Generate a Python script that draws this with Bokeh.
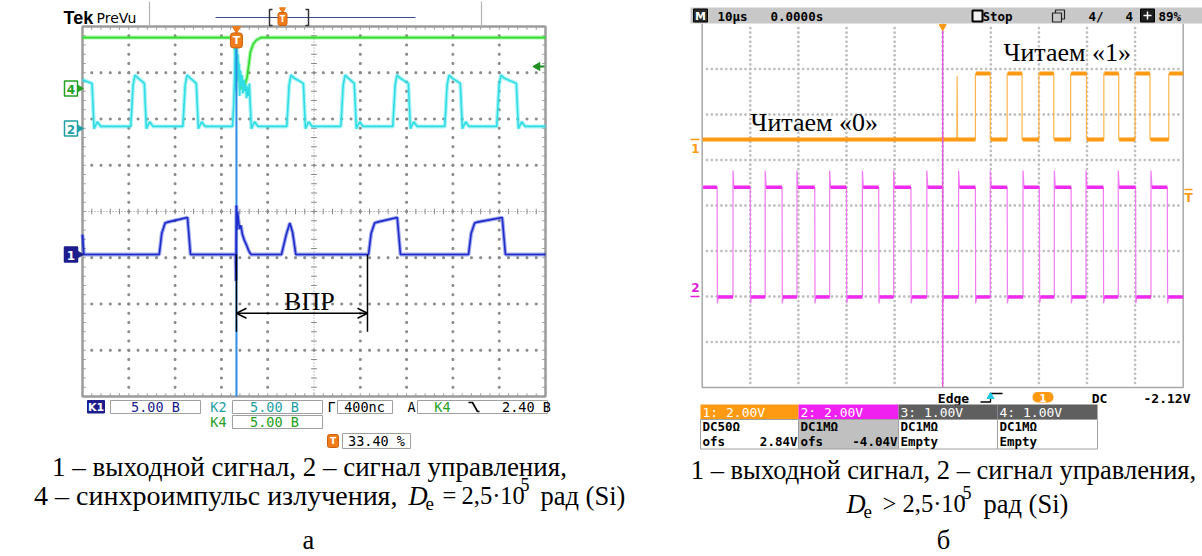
import numpy as np
from bokeh.plotting import figure
from bokeh.models import Range1d, Arrow, OpenHead
from bokeh.core.properties import value
from bokeh.embed import file_html
from bokeh.resources import INLINE

W, H = 1202, 556

# ================= DATA =================
# --- left oscillogram (Tek), time in ns (400 ns/div, 10 div), amplitude in divisions ---
L_T_SPAN = 4000.0
L_GREEN_LEVEL = 3.76
L_GREEN_DIP_NS = [1296, 1330, 1365, 1400, 1422, 1451, 1475, 1500, 1540]
L_GREEN_DIP_DIV = [3.76, 3.40, 2.65, 2.72, 2.90, 3.45, 3.62, 3.70, 3.76]

L_CYAN_LOW, L_CYAN_HIGH = 1.84, 2.85
L_CYAN_RISE_NS = [423, 873, 1771, 2238, 2687, 3136, 3585]
L_CYAN_FALL_NS = [92, 544, 993, 1451, 1918, 2358, 2825, 3274, 3758]
L_CYAN_BURST_NS = [1296, 1306, 1314, 1320, 1326, 1331, 1336, 1341, 1347, 1352, 1358,
                   1364, 1370, 1378, 1386, 1394, 1402, 1410, 1418, 1426, 1434, 1442]
L_CYAN_BURST_DIV = [1.84, 2.30, 2.90, 3.72, 2.60, 3.55, 2.80, 3.40, 2.95, 3.20, 2.50,
                    3.05, 2.70, 2.95, 2.55, 2.85, 2.60, 2.75, 2.45, 2.70, 2.50, 2.60]

L_BLUE_BASE, L_BLUE_HIGH = -0.93, -0.17
L_BLUE_RISE0_NS = [663, 2471, 3335]
L_BLUE_RISE1_NS = [735, 2546, 3410]
L_BLUE_FALL0_NS = [907, 2719, 3626]
L_BLUE_FALL1_NS = [933, 2747, 3654]
L_BLUE_START_NS = [0, 12]
L_BLUE_START_DIV = [-0.50, -0.93]
L_BLUE_SPIKE_NS = [1322, 1326, 1330, 1334, 1339, 1346, 1356, 1368, 1382, 1398, 1416, 1436, 1456]
L_BLUE_SPIKE_DIV = [-0.93, -1.50, 0.13, -0.40, 0.00, -0.15, -0.38, -0.30, -0.50, -0.62, -0.72, -0.85, -0.93]
L_BLUE_SMALL_NS = [1719, 1760, 1791, 1815, 1843]
L_BLUE_SMALL_DIV = [-0.93, -0.50, -0.25, -0.45, -0.93]

L_TRIG_NS = 1330
L_VPR_END_NS = 2462
L_VPR_Y_DIV = -2.2

# --- right oscillogram (GW), time in us (10 us/div), amplitude in divisions ---
R_T_SPAN = 100.0
R_OR_LOW, R_OR_HIGH = 1.45, 2.90
R_OR_RISE_US = [56.8, 63.4, 70.0, 76.6, 83.5, 90.0, 97.0]
R_OR_FALL_US = [59.9, 66.5, 73.1, 79.9, 86.6, 93.1]
R_OR_GLITCH_US = [50.0, 53.0]
R_OR_GLITCH_DIV = [1.62, 2.85]
R_MG_LOW, R_MG_HIGH = -2.01, 0.40
R_MG_PEAK, R_MG_DIP = 0.77, -2.15
R_MG_FALL_US = [3.1, 10.0, 16.6, 23.4, 30.0, 36.7, 43.4, 50.0, 56.8, 63.4, 70.1, 76.7, 83.4, 90.1, 96.7]
R_MG_RISE_US = [6.4, 13.1, 19.7, 26.5, 33.3, 39.8, 46.7, 53.3, 59.9, 66.7, 73.2, 79.8, 86.5, 93.3]
R_TRIG_US = 50.0

# ================= FIGURE =================
p = figure(width=W, height=H, x_range=Range1d(0, W), y_range=Range1d(H, 0),
           output_backend="svg", toolbar_location=None, min_border=0,
           x_axis_location=None, y_axis_location=None)
p.grid.visible = False
p.outline_line_color = None
p.title.visible = False
p.background_fill_color = "white"

# screen placement on the page (pixels)
LX0, LX1, LY0, LY1 = 82.0, 545.0, 26.0, 396.0
RX0, RX1, RY0, RY1 = 701.7, 1182.7, 23.0, 387.0

def xr(x0, x1, span):
    k = span / (x1 - x0)
    return Range1d(-x0 * k, span + (W - x1) * k)

def yr(y0, y1):
    k = 8.0 / (y1 - y0)
    return Range1d(-4 - (H - y1) * k, 4 + y0 * k)

p.extra_x_ranges = {"lx": xr(LX0, LX1, L_T_SPAN), "rx": xr(RX0, RX1, R_T_SPAN)}
p.extra_y_ranges = {"ly": yr(LY0, LY1), "ry": yr(RY0, RY1)}
L = dict(x_range_name="lx", y_range_name="ly")
R = dict(x_range_name="rx", y_range_name="ry")

def txt(x, y, s, size, color="black", font="DejaVu Sans", align="left",
        baseline="middle", style="normal", rng=None):
    kw = rng if rng else {}
    p.text(x=[x], y=[y], text=[s], text_font=value(font), text_font_size=f"{size}px",
           text_color=color, text_align=align, text_baseline=baseline,
           text_font_style=style, **kw)

def box(l, r, t, b, fill="white", line="#a0a0a0", lw=1, radius=0):
    p.quad(left=[l], right=[r], top=[t], bottom=[b], fill_color=fill,
           line_color=line, line_width=lw, border_radius=radius)

# ================= LEFT SCREEN =================
gx, gy = [], []
for i in range(1, 10):
    if i == 5:
        continue
    for yv in np.arange(-3.8, 3.81, 0.2):
        gx.append(i * 400.0); gy.append(yv)
for j in range(-3, 4):
    if j == 0:
        continue
    for t in np.arange(80, 4000, 80):
        gx.append(t); gy.append(float(j))
p.scatter(gx, gy, marker="square", size=1.8, color="#8a8a8a", **L)
p.line([0, 4000], [0, 0], line_color="#8a8a8a", line_dash="1 2", **L)
p.line([2000, 2000], [-4, 4], line_color="#8a8a8a", line_dash="1 2", **L)
tt = np.arange(80, 4000, 80)
p.segment(tt, -0.06, tt, 0.06, line_color="#8a8a8a", **L)
ty = np.arange(-3.8, 3.81, 0.2)
p.segment(2000 - 25, ty, 2000 + 25, ty, line_color="#8a8a8a", **L)
p.segment(tt, 4, tt, 3.93, line_color="#9a9a9a", **L)
p.segment(tt, -4, tt, -3.93, line_color="#9a9a9a", **L)
p.segment(0, ty, 28, ty, line_color="#9a9a9a", **L)
p.segment(4000, ty, 3972, ty, line_color="#9a9a9a", **L)
p.quad(left=[0], right=[4000], top=[4], bottom=[-4], fill_color=None,
       line_color="#9c9c9c", line_width=2.5, **L)

# green trace
gxs = [0.0] + L_GREEN_DIP_NS + [L_T_SPAN]
gys = [L_GREEN_LEVEL] + L_GREEN_DIP_DIV + [L_GREEN_LEVEL]
p.line(gxs, gys, line_color="#3ae83a", line_width=4, alpha=0.45, **L)
p.line(gxs, gys, line_color="#2fdc2f", line_width=1.6, **L)

# cyan trace
lo, hi = L_CYAN_LOW, L_CYAN_HIGH
ev = sorted([(t, "r") for t in L_CYAN_RISE_NS] + [(t, "f") for t in L_CYAN_FALL_NS]
            + [(L_CYAN_BURST_NS[0], "b")])
cx, cy = [0.0], [hi]
for t, k in ev:
    if k == "r":
        seq = [(t - 6, lo), (t + 14, hi - 0.12), (t + 30, hi + 0.10), (t + 60, hi + 0.03)]
    elif k == "f":
        seq = [(t - 10, hi - 0.08), (t + 8, lo - 0.05), (t + 36, lo + 0.10), (t + 66, lo)]
    else:
        seq = list(zip(L_CYAN_BURST_NS, L_CYAN_BURST_DIV))
    for a, b in seq:
        cx.append(a); cy.append(b)
cx.append(L_T_SPAN); cy.append(lo)
p.line(cx, cy, line_color="#44e6ec", line_width=4, alpha=0.45, **L)
p.line(cx, cy, line_color="#30dde4", line_width=1.6, **L)

# trigger line
p.line([L_TRIG_NS, L_TRIG_NS], [3.55, -4], line_color="#2b8de6", line_width=2, **L)

# blue trace
base, bh = L_BLUE_BASE, L_BLUE_HIGH
segs = []
for r0, r1, f0, f1 in zip(L_BLUE_RISE0_NS, L_BLUE_RISE1_NS, L_BLUE_FALL0_NS, L_BLUE_FALL1_NS):
    segs.append([(r0, base), (r0 + 0.3 * (r1 - r0), base + 0.6 * (bh - base)),
                 (r0 + 0.7 * (r1 - r0), bh - 0.08), (r1, bh - 0.06), (f0, bh + 0.04), (f1, base)])
segs.append(list(zip(L_BLUE_SPIKE_NS, L_BLUE_SPIKE_DIV)))
segs.append(list(zip(L_BLUE_SMALL_NS, L_BLUE_SMALL_DIV)))
segs.sort(key=lambda s: s[0][0])
bx, by = list(L_BLUE_START_NS), list(L_BLUE_START_DIV)
for s in segs:
    for a, b in s:
        bx.append(a); by.append(b)
bx.append(L_T_SPAN); by.append(base)
p.line(bx, by, line_color="#2a3ad8", line_width=3.8, alpha=0.45, **L)
p.line(bx, by, line_color="#1d2bc8", line_width=1.6, **L)

# trigger T marker on top
p.scatter([L_TRIG_NS], [3.95], marker="inverted_triangle", size=8, color="#f07d1a", **L)
p.rect([L_TRIG_NS], [3.70], width=12, height=15, width_units="screen", height_units="screen",
       fill_color="#f07d1a", line_color="#d06010", border_radius=3, **L)
txt(L_TRIG_NS, 3.70, "T", 11, "white", "DejaVu Sans", "center", "middle", "bold", L)

# VPR annotation
p.line([L_TRIG_NS, L_TRIG_NS], [L_BLUE_BASE, -2.6], line_color="black", line_width=1.5, **L)
p.line([L_VPR_END_NS, L_VPR_END_NS], [L_BLUE_BASE, -2.6], line_color="black", line_width=1.5, **L)
p.add_layout(Arrow(x_start=L_TRIG_NS, y_start=L_VPR_Y_DIV, x_end=L_VPR_END_NS, y_end=L_VPR_Y_DIV,
                   line_width=1.4, line_color="black",
                   start=OpenHead(size=10, line_width=1.4, line_color="black"),
                   end=OpenHead(size=10, line_width=1.4, line_color="black"), **L))
txt(1960, -1.95, "ВПР", 26, "black", "Liberation Serif", "center", "middle", "normal", L)

# channel markers on the left
def ch_marker(yc, label, color, filled):
    box(64, 77, yc - 7.5, yc + 7.5, fill=color if filled else "white", line=color, lw=1.5)
    p.scatter([79.5], [yc], marker="triangle", angle=-np.pi / 2, size=6, color=color)
    txt(70.5, yc + 0.5, label, 12, "white" if filled else color, "DejaVu Sans", "center", "middle", "bold")

ch_marker(88, "4", "#22a022", False)
ch_marker(128, "2", "#1fa0a5", False)
ch_marker(254, "1", "#1c1c8c", True)
p.scatter([537], [66], marker="triangle", angle=np.pi / 2, size=8, color="#1f8f1f")
p.line([538, 544], [66, 66], line_color="#1f8f1f", line_width=2)

# header "Tek PreVu"
txt(63, 17, "Tek", 18, "black", "Liberation Sans", "left", "middle", "bold")
txt(96, 17, "PreVu", 14, "black", "DejaVu Sans", "left", "middle")
p.segment([149, 481], [1, 1], [149, 481], [26, 26], line_color="#b4b4b4", line_width=1.2)
p.line([215, 415], [17, 17], line_color="#3b4a8a", line_width=1.2)
p.line([272, 269, 269, 272], [9, 9, 25, 25], line_color="#333333", line_width=1.5)
p.line([305, 308, 308, 305], [9, 9, 25, 25], line_color="#333333", line_width=1.5)
p.scatter([282], [9], marker="inverted_triangle", size=6, color="#f07d1a")
box(277.5, 286.5, 12, 25, fill="#f07d1a", line="#d06010", radius=2)
txt(282, 18.5, "T", 8, "white", "DejaVu Sans", "center", "middle", "bold")

# bottom status (Tek)
MONO = "DejaVu Sans Mono"
NAVY, TEAL, GREEN = "#1c1c8c", "#1fa0a5", "#22a022"
y1, y2, y3 = 406.5, 421.5, 440.5
box(87, 104, 400, 412.5, fill=NAVY, line=NAVY)
txt(95.5, y1, "K1", 11, "white", "DejaVu Sans", "center", "middle", "bold")
box(110, 200, 400, 413)
txt(155, y1, "5.00 B", 13.5, NAVY, MONO, "center")
txt(218, y1, "K2", 13.5, TEAL, MONO, "center")
box(232, 322, 400, 413)
txt(274, y1, "5.00 B", 13.5, TEAL, MONO, "center")
txt(331, y1, "Г", 13.5, "black", MONO, "center")
box(337, 392, 400, 413)
txt(364, y1, "400nc", 13.5, "black", MONO, "center")
txt(411, y1, "А", 13.5, "black", MONO, "center")
box(417, 547, 400, 413)
txt(442, y1, "K4", 13.5, GREEN, MONO, "center")
p.line([468, 472, 477, 479], [402, 402, 411, 411], line_color="black", line_width=1.6)
txt(526, y1, "2.40 B", 13.5, "black", MONO, "center")
txt(218, y2, "K4", 13.5, GREEN, MONO, "center")
box(232, 322, 415, 428)
txt(274, y2, "5.00 B", 13.5, GREEN, MONO, "center")
box(327, 338, 434, 447, fill="#f07d1a", line="#d06010", radius=2)
txt(332.5, y3, "T", 9, "white", "DejaVu Sans", "center", "middle", "bold")
box(342, 410, 433, 448)
txt(376, y3, "33.40 %", 13.5, "black", MONO, "center")

# ================= RIGHT SCREEN =================
gx, gy = [], []
for i in range(1, 10):
    for yv in np.arange(-3.9, 3.91, 0.1):
        gx.append(i * 10.0); gy.append(yv)
for j in range(-3, 4):
    for t in np.arange(1, 100, 1.0):
        gx.append(t); gy.append(float(j))
p.scatter(gx, gy, marker="square", size=1.5, color="#bcbcbc", **R)
p.line([0, 0, 100, 100], [4, -4, -4, 4], line_color="#a8a8a8", line_width=1.5, **R)

# orange trace (channel 1)
olo, ohi = R_OR_LOW, R_OR_HIGH
oev = sorted([(t, 1) for t in R_OR_RISE_US] + [(t, 0) for t in R_OR_FALL_US])
ox, oy = [0.0], [olo]
for g, gv in zip(R_OR_GLITCH_US, R_OR_GLITCH_DIV):
    ox += [g - 0.05, g, g + 0.08]; oy += [olo, gv, olo]
for t, k in oev:
    ox += [t, t]; oy += ([olo, ohi] if k else [ohi, olo])
ox.append(R_T_SPAN); oy.append(ohi)
p.line(ox, oy, line_color="#ffb54d", line_width=1.2, **R)
plat, cur, st = [], 0.0, 0
for t, k in oev:
    plat.append((cur, t, st)); cur, st = t, k
plat.append((cur, R_T_SPAN, st))
p.segment([a + 0.1 for a, b, s in plat], [ohi if s else olo for a, b, s in plat],
          [b for a, b, s in plat], [ohi if s else olo for a, b, s in plat],
          line_color="#ff9a12", line_width=4, **R)

# magenta trace (channel 2)
mlo, mhi = R_MG_LOW, R_MG_HIGH
mev = sorted([(t, 1) for t in R_MG_RISE_US] + [(t, 0) for t in R_MG_FALL_US])
mx, my = [0.0], [mhi]
for t, k in mev:
    if k:
        mx += [t, t, t + 0.2]; my += [mlo, R_MG_PEAK, mhi]
    else:
        mx += [t, t + 0.05, t + 0.25]; my += [mhi, R_MG_DIP, mlo]
mx.append(R_T_SPAN); my.append(mlo)
p.line(mx, my, line_color="#f27af2", line_width=1.2, **R)
plat, cur, st = [], 0.0, 1
for t, k in mev:
    plat.append((cur, t, st)); cur, st = t, k
plat.append((cur, R_T_SPAN, st))
p.segment([a + 0.2 for a, b, s in plat], [mhi if s else mlo for a, b, s in plat],
          [b for a, b, s in plat], [mhi if s else mlo for a, b, s in plat],
          line_color="#ee2aee", line_width=3.5, **R)

p.line([R_TRIG_US, R_TRIG_US], [4, -4], line_color="#e060e0", line_width=1.5, **R)
p.scatter([R_TRIG_US], [3.93], marker="inverted_triangle", size=7, color="#ff9a12", **R)

txt(750, 122, "Читаем «0»", 26, "black", "Liberation Serif", "left", "middle")
txt(1003, 52, "Читаем «1»", 26, "black", "Liberation Serif", "left", "middle")

p.line([690, 699], [139, 139], line_color="#ff9a12", line_width=1.5)
txt(695, 148, "1", 12, "#ff9a12", "DejaVu Sans", "center", "middle", "bold")
p.line([690, 699], [296, 296], line_color="#e020e0", line_width=1.5)
txt(695, 287, "2", 12, "#e020e0", "DejaVu Sans", "center", "middle", "bold")
p.line([1184, 1192], [189, 189], line_color="#ff9a12", line_width=1.5)
txt(1188, 197, "T", 12, "#ff9a12", "DejaVu Sans", "center", "middle", "bold")

# header bar (GW)
box(690, 1202, 7, 23, fill="#c8c8c8", line=None)
box(693, 707, 8.5, 21.5, fill="#2a2a2a", line="#000000")
txt(700, 15.5, "M", 11, "white", "DejaVu Sans", "center", "middle", "bold")
txt(717, 15.5, "10µs", 12.5, "black", MONO, "left", "middle", "bold")
txt(770, 15.5, "0.0000s", 12.5, "black", MONO, "left", "middle", "bold")
box(972, 982, 10, 21, fill="#f0f0f0", line="#000000", lw=2)
txt(982, 15.5, "Stop", 12.5, "black", MONO, "left", "middle", "bold")
box(1055, 1064, 9.5, 18.5, fill="#c8c8c8", line="#222222", lw=1.2)
box(1052, 1061, 12.5, 21.5, fill="#c8c8c8", line="#222222", lw=1.2)
txt(1088, 15.5, "4/", 12.5, "black", MONO, "left", "middle", "bold")
txt(1125, 15.5, "4", 12.5, "black", MONO, "left", "middle", "bold")
box(1140, 1154, 8.5, 21.5, fill="#1e1e1e", line="#000000")
p.segment([1143, 1147], [15, 11], [1151, 1147], [15, 19], line_color="white", line_width=1.5)
txt(1158, 15.5, "89%", 12.5, "black", MONO, "left", "middle", "bold")

# bottom status (GW)
txt(953, 397.5, "Edge", 13, "black", MONO, "center", "middle", "bold")
p.line([980, 990, 990, 1002], [401.5, 401.5, 393, 393], line_color="black", line_width=1.3)
p.scatter([990], [396], marker="triangle", size=7, color="#20c8e8")
box(1032, 1053, 391.5, 402, fill="#ff9a12", line=None, radius=5)
txt(1042.5, 397, "1", 10, "white", "DejaVu Sans", "center", "middle", "bold")
txt(1099, 397.5, "DC", 13, "black", MONO, "center", "middle", "bold")
txt(1190, 397.5, "-2.12V", 13, "black", MONO, "right", "middle", "bold")

chan = [(700, 798, "#ff9a12", "1: 2.00V", "white", "DC50Ω", "ofs", "2.84V"),
        (798, 898, "#f020f0", "2: 2.00V", "#c0c0c0", "DC1MΩ", "ofs", "-4.04V"),
        (898, 997, "#5f5f5f", "3: 1.00V", "white", "DC1MΩ", "Empty", ""),
        (997, 1097, "#5f5f5f", "4: 1.00V", "white", "DC1MΩ", "Empty", "")]
for l, r, hc, ht, bf, r1, r2, r2v in chan:
    box(l, r, 404, 419, fill=hc, line=None)
    box(l, r, 419, 448.5, fill=bf, line="#a0a0a0")
    txt(l + 2, 412, ht, 13, "white", MONO, "left", "middle")
    txt(l + 2, 426, r1, 12.5, "black", MONO, "left", "middle", "bold")
    txt(l + 2, 441, r2, 12.5, "black", MONO, "left", "middle", "bold")
    if r2v:
        txt(r - 1, 441, r2v, 12.5, "black", MONO, "right", "middle", "bold")

# ================= CAPTIONS =================
SERIF = "Liberation Serif"
CS, MS, SS = 26.5, 24.5, 18
txt(309, 466, "1 – выходной сигнал, 2 – сигнал управления,", 27, "black", SERIF, "center")
txt(397, 495, "4 – синхроимпульс излучения,", 28, "black", SERIF, "right")
txt(408, 495, "D", CS, "black", SERIF, "left", "middle", "italic")
txt(425, 503, "e", SS + 1, "black", SERIF, "left")
txt(442, 495, "=", MS, "black", SERIF, "left")
txt(461, 495, "2,5·10", MS, "black", SERIF, "left")
txt(520, 484, "5", SS, "black", SERIF, "left")
txt(540, 495, "рад (Si)", CS, "black", SERIF, "left")
txt(308, 539, "а", CS, "black", SERIF, "center")

txt(943, 469, "1 – выходной сигнал, 2 – сигнал управления,", CS, "black", SERIF, "center")
txt(846, 503, "D", CS, "black", SERIF, "left", "middle", "italic")
txt(863, 511, "e", SS + 1, "black", SERIF, "left")
txt(882, 503, ">", MS, "black", SERIF, "left")
txt(902, 503, "2,5·10", MS, "black", SERIF, "left")
txt(962, 492, "5", SS, "black", SERIF, "left")
txt(983, 503, "рад (Si)", CS, "black", SERIF, "left")
txt(943, 539, "б", CS, "black", SERIF, "center")

open("out.html", "w").write(file_html(p, INLINE))
